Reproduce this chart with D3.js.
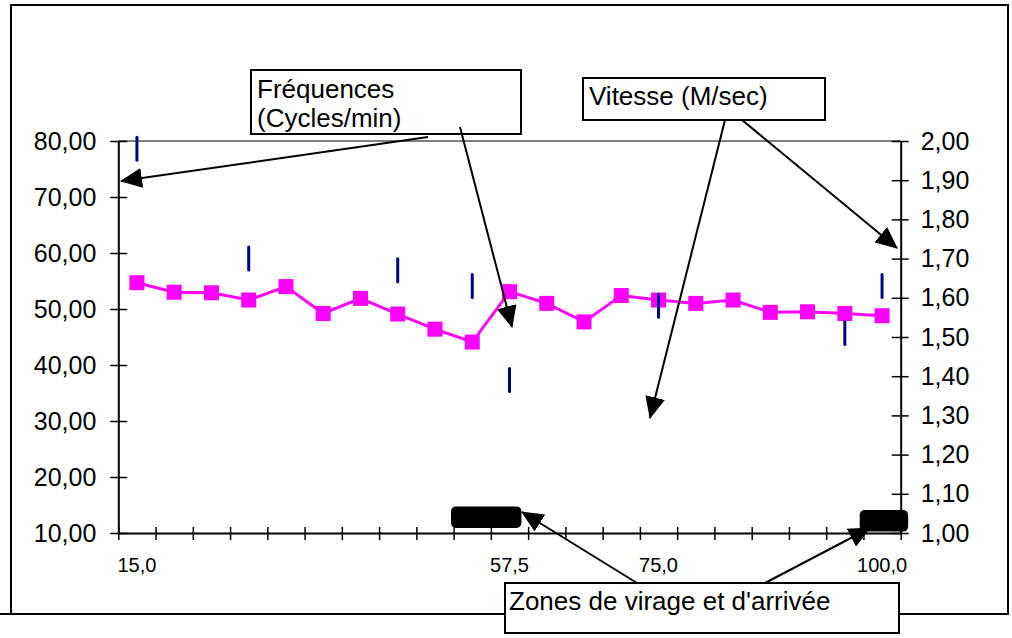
<!DOCTYPE html>
<html>
<head>
<meta charset="utf-8">
<script src="https://cdn.jsdelivr.net/npm/d3@7"></script>
<style>
  body { margin: 0; background: #fff; }
  svg { display: block; font-family: "Liberation Sans", Arial, sans-serif; }
</style>
</head>
<body>
<svg id="chart" width="1012" height="638"></svg>
<script>
// ---------- data ----------
const categories = d3.range(0, 21);
const xLabels = ["15,0","","","","","","","","","","57,5","","","","75,0","","","","","","100,0"];
const frequency = [54.7, 53.0, 52.9, 51.6, 54.0, 49.2, 51.9, 49.1, 46.4, 44.1, 53.1, 51.0, 47.7, 52.4, 51.6, 51.0, 51.6, 49.4, 49.5, 49.2, 48.8];
const speed = [1.98, null, null, 1.70, null, null, null, 1.67, null, 1.63, 1.39, null, null, null, 1.58, null, null, null, null, 1.51, 1.63];
const leftTicks = [10, 20, 30, 40, 50, 60, 70, 80];
const rightTicks = [1.0, 1.1, 1.2, 1.3, 1.4, 1.5, 1.6, 1.7, 1.8, 1.9, 2.0];
// zones (turn / finish), in category-position units and frequency units
const zoneFrom = [8.93, 19.9];
const zoneTo = [10.82, 21.2];
const zoneLow = [10.9, 10.25];
const zoneHigh = [14.75, 14.1];

// ---------- layout ----------
const svg = d3.select("#chart");
const L = 118.3, R = 900.7, T = 141, B = 533;

const x = d3.scaleBand().domain(categories).range([L, R]).padding(0);
const xi = d3.scaleLinear().domain([0, categories.length]).range([L, R]);
const yL = d3.scaleLinear().domain([10, 80]).range([B, T]);
const yR = d3.scaleLinear().domain([1, 2]).range([B, T]);
const fmt2 = d => d.toFixed(2).replace(".", ",");

// outer frame
svg.append("rect").attr("x", 11).attr("y", 5).attr("width", 997).attr("height", 609)
  .attr("fill", "none").attr("stroke", "#000").attr("stroke-width", 2);
svg.append("line").attr("x1", 0).attr("x2", 11).attr("y1", 614).attr("y2", 614)
  .attr("stroke", "#000").attr("stroke-width", 2);

// top plot border (gray)
svg.append("line").attr("x1", L).attr("x2", R).attr("y1", T).attr("y2", T)
  .attr("stroke", "#808080").attr("stroke-width", 2);

// left axis
const gL = svg.append("g").attr("transform", `translate(${L},0)`)
  .call(d3.axisLeft(yL).tickValues(leftTicks).tickFormat(fmt2).tickSize(8).tickPadding(14).tickSizeOuter(0));
gL.select(".domain").attr("stroke", "#000").attr("stroke-width", 2);
gL.selectAll(".tick line").attr("x1", -8).attr("x2", 9).attr("stroke", "#000").attr("stroke-width", 1.5);
gL.selectAll(".tick text").attr("font-size", 25).attr("fill", "#000").attr("font-family", "Liberation Sans, Arial, sans-serif");

// right axis
const gR = svg.append("g").attr("transform", `translate(${R},0)`)
  .call(d3.axisRight(yR).tickValues(rightTicks).tickFormat(fmt2).tickSize(8).tickPadding(12).tickSizeOuter(0));
gR.select(".domain").attr("stroke", "#000").attr("stroke-width", 2);
gR.selectAll(".tick line").attr("x1", -9).attr("x2", 8).attr("stroke", "#000").attr("stroke-width", 1.5);
gR.selectAll(".tick text").attr("font-size", 25).attr("fill", "#000").attr("font-family", "Liberation Sans, Arial, sans-serif");

// bottom axis (category boundaries)
const gB = svg.append("g").attr("transform", `translate(0,${B})`)
  .call(d3.axisBottom(xi).tickValues(d3.range(0, categories.length + 1)).tickFormat("").tickSize(7).tickSizeOuter(0));
gB.select(".domain").attr("stroke", "#000").attr("stroke-width", 2);
gB.selectAll(".tick line").attr("y1", -6).attr("y2", 7).attr("stroke", "#000").attr("stroke-width", 1.5);

svg.append("g").selectAll("text").data(categories.filter(i => xLabels[i] !== "")).join("text")
  .attr("x", i => x(i) + x.bandwidth() / 2).attr("y", 572)
  .attr("text-anchor", "middle").attr("font-size", 20).attr("fill", "#000")
  .text(i => xLabels[i]);

// frequency series (magenta line + squares)
const line = d3.line().x((d, i) => x(i) + x.bandwidth() / 2).y(d => yL(d));
svg.append("path").datum(frequency).attr("d", line)
  .attr("fill", "none").attr("stroke", "#FF00FF").attr("stroke-width", 3);
svg.append("g").selectAll("rect").data(frequency).join("rect")
  .attr("x", (d, i) => x(i) + x.bandwidth() / 2 - 7.5).attr("y", d => yL(d) - 7.5)
  .attr("width", 15).attr("height", 15).attr("fill", "#FF00FF");

// speed series (navy dash markers)
const sp = speed.map((v, i) => ({ v, i })).filter(d => d.v != null);
svg.append("g").selectAll("line").data(sp).join("line")
  .attr("x1", d => x(d.i) + x.bandwidth() / 2).attr("x2", d => x(d.i) + x.bandwidth() / 2)
  .attr("y1", d => yR(d.v) - 11.5).attr("y2", d => yR(d.v) + 11.5)
  .attr("stroke", "#000080").attr("stroke-width", 3).attr("stroke-linecap", "round");

// zone blocks
svg.append("g").selectAll("rect").data(zoneFrom.map((f, k) => k)).join("rect")
  .attr("x", k => xi(zoneFrom[k])).attr("width", k => xi(zoneTo[k]) - xi(zoneFrom[k]))
  .attr("y", k => yL(zoneHigh[k])).attr("height", k => yL(zoneLow[k]) - yL(zoneHigh[k]))
  .attr("rx", 5).attr("fill", "#000");

// ---------- annotations ----------
const notes = [
  { lines: ["Fréquences", "(Cycles/min)"], x: 251, y: 70, w: 270, h: 64, tx: 257, ty: [98, 127] },
  { lines: ["Vitesse (M/sec)"], x: 583, y: 78, w: 242, h: 42, tx: 589, ty: [105] },
  { lines: ["Zones de virage et d'arrivée"], x: 505, y: 583, w: 394, h: 50, tx: 509, ty: [610] }
];
notes.forEach(n => {
  svg.append("rect").attr("x", n.x).attr("y", n.y).attr("width", n.w).attr("height", n.h)
    .attr("fill", "#fff").attr("stroke", "#000").attr("stroke-width", 2);
  n.lines.forEach((t, k) => {
    svg.append("text").attr("x", n.tx).attr("y", n.ty[k]).attr("font-size", 26).attr("fill", "#000").text(t);
  });
});

svg.append("defs").append("marker").attr("id", "ah")
  .attr("viewBox", "0 0 22 20").attr("refX", 21).attr("refY", 10)
  .attr("markerWidth", 22).attr("markerHeight", 20).attr("markerUnits", "userSpaceOnUse")
  .attr("orient", "auto")
  .append("path").attr("d", "M0,0 L22,10 L0,20 Z").attr("fill", "#000");

const arrows = [
  [428, 137, 121, 181], [460, 127, 512, 327],
  [725, 120, 650, 418], [742, 120, 897, 248],
  [637, 583, 522, 512], [765, 583, 870, 528]
];
svg.append("g").selectAll("line").data(arrows).join("line")
  .attr("x1", d => d[0]).attr("y1", d => d[1]).attr("x2", d => d[2]).attr("y2", d => d[3])
  .attr("stroke", "#000").attr("stroke-width", 2).attr("marker-end", "url(#ah)");
</script>
</body>
</html>
